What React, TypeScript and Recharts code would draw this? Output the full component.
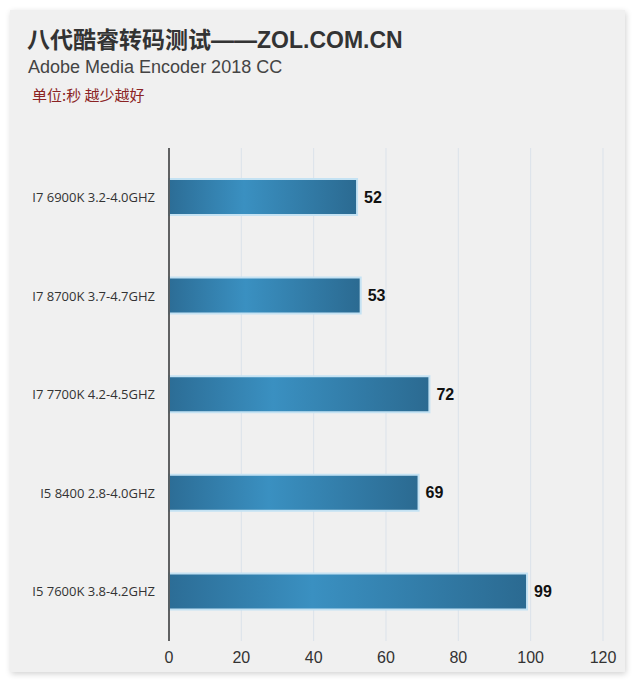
import React from 'react';
import { BarChart, Bar, XAxis, YAxis, CartesianGrid, LabelList } from 'recharts';

const cpus = [
  'I7 6900K 3.2-4.0GHZ',
  'I7 8700K 3.7-4.7GHZ',
  'I7 7700K 4.2-4.5GHZ',
  'I5 8400 2.8-4.0GHZ',
  'I5 7600K 3.8-4.2GHZ',
];
const seconds = [52, 53, 72, 69, 99];
const xTicks = [0, 20, 40, 60, 80, 100, 120];

const data = cpus.map((name, i) => ({ name, value: seconds[i] }));

export default function App() {
  return (
    <div
      style={{
        position: 'absolute',
        left: 0,
        top: 0,
        width: 640,
        height: 687,
        background: '#fff',
        overflow: 'hidden',
      }}
    >
      <div
        style={{
          position: 'absolute',
          left: 10,
          top: 10,
          width: 615,
          height: 662,
          background: '#f0f0f0',
          boxShadow: '1px 2px 6px rgba(0,0,0,0.18)',
        }}
      />
      <div
        style={{
          position: 'absolute',
          left: 27,
          top: 21,
          fontFamily: '"Liberation Sans", "Noto Sans CJK SC", sans-serif',
          fontWeight: 700,
          fontSize: 23,
          color: '#333',
          whiteSpace: 'nowrap',
        }}
      >
        八代酷睿转码测试——ZOL.COM.CN
      </div>
      <div
        style={{
          position: 'absolute',
          left: 28,
          top: 57,
          fontFamily: '"Liberation Sans", Arial, sans-serif',
          fontSize: 18,
          color: '#444',
          whiteSpace: 'nowrap',
        }}
      >
        Adobe Media Encoder 2018 CC
      </div>
      <div
        style={{
          position: 'absolute',
          left: 32,
          top: 84,
          fontFamily: '"Noto Sans CJK SC", sans-serif',
          fontSize: 15,
          color: '#8b2323',
          whiteSpace: 'nowrap',
        }}
      >
        单位:秒 越少越好
      </div>
      <div style={{ position: 'absolute', left: 0, top: 0 }}>
        <BarChart
          width={640}
          height={687}
          data={data}
          layout="vertical"
          margin={{ top: 148, right: 37, left: 9, bottom: 16 }}
        >
          <defs>
            <linearGradient id="barFill" x1="0" y1="0" x2="1" y2="0">
              <stop offset="0%" stopColor="#2c6d96" />
              <stop offset="40%" stopColor="#3a90c1" />
              <stop offset="100%" stopColor="#2b6a91" />
            </linearGradient>
          </defs>
          <CartesianGrid horizontal={false} stroke="#dbe2ea" />
          <XAxis
            type="number"
            domain={[0, 120]}
            ticks={xTicks}
            axisLine={false}
            tickLine={false}
            tickSize={0}
            tickMargin={11}
            height={30}
            tick={{ fontSize: 16, fill: '#333', fontFamily: '"Liberation Sans", Arial, sans-serif' }}
          />
          <YAxis
            type="category"
            dataKey="name"
            width={160}
            axisLine={{ stroke: '#333', strokeWidth: 1.5 }}
            tickLine={false}
            tickSize={0}
            tickMargin={14}
            tick={{ fontSize: 13, fill: '#333', fontFamily: '"Open Sans", "Noto Sans", sans-serif' }}
          />
          <Bar
            dataKey="value"
            barSize={36}
            fill="url(#barFill)"
            stroke="#c4e2f3"
            strokeWidth={2}
            isAnimationActive={false}
          >
            <LabelList
              dataKey="value"
              position="right"
              offset={7}
              style={{ fontSize: 16, fontWeight: 700, fill: '#111', fontFamily: '"Liberation Sans", Arial, sans-serif' }}
            />
          </Bar>
        </BarChart>
      </div>
    </div>
  );
}
